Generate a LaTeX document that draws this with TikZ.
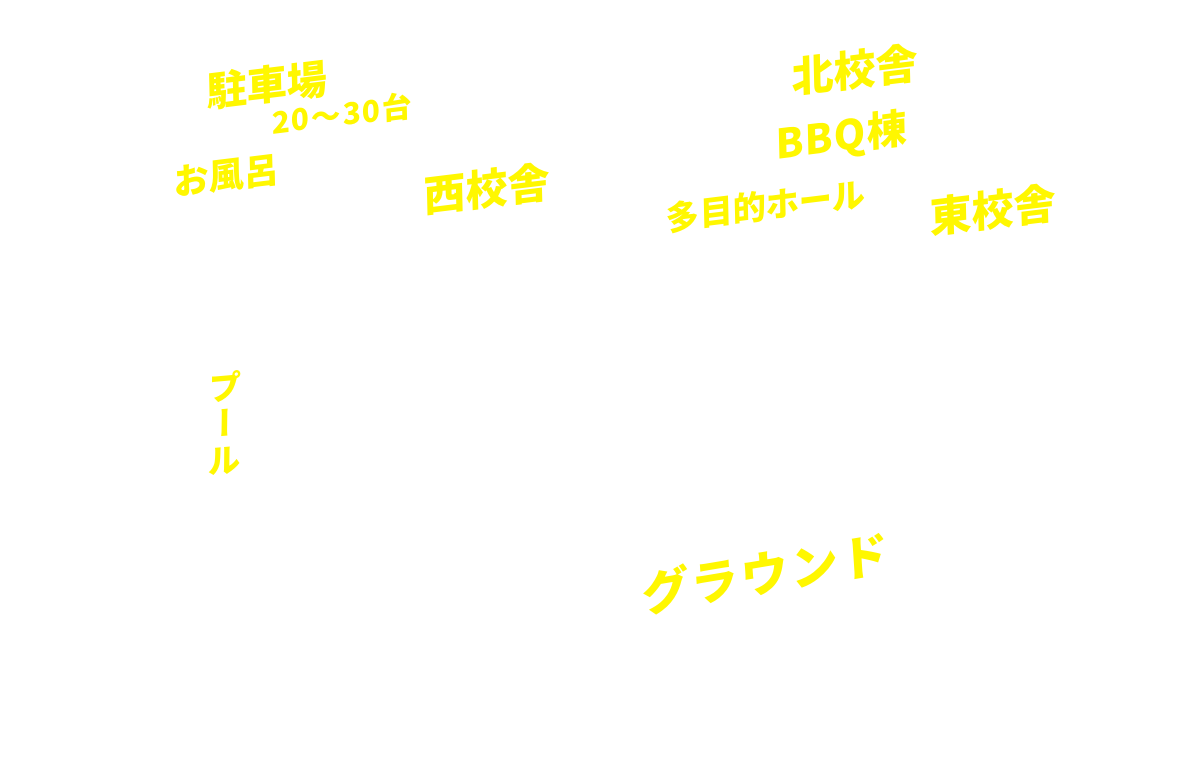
\documentclass[tikz,border=0pt]{standalone}
\usepackage{fontspec}
\newfontfamily\jpfont{Noto Sans CJK JP}
\newfontfamily\jpvertfont[RawFeature=+vert]{Noto Sans CJK JP}
\definecolor{signyellow}{HTML}{FFF700}
\newcommand{\fsz}[2][1.0]{\fontsize{#2}{#1\dimexpr #2pt\relax}\selectfont}

\begin{document}
\begin{tikzpicture}[
    x=0.02cm,
    y=-0.02cm,
    sign/.style={
        text=signyellow,
        inner sep=0pt,
        rotate=7,
        xslant=0.1,
        font=\jpfont\bfseries\fsz{#1}
    },
    spaced/.style={
        execute at begin node=\addfontfeature{LetterSpace=#1}
    }
]

% ============================================================
% Canvas
% ============================================================

\fill[white] (0,0) rectangle (1200,777);
\useasboundingbox (0,0) rectangle (1200,777);

% ============================================================
% West side
% ============================================================

\node[sign=23] (parking) at (267,85) {駐車場};
\node[sign=17, spaced=6] (parkcount) at (342,114) {20～30台};
\node[sign=20] (bath) at (227,176) {お風呂};
\node[sign=24] (westwing) at (487,189) {西校舎};

\node[sign=19, rotate=-2, align=center,
      font=\jpvertfont\bfseries\fontsize{19}{20.5}\selectfont] (pool) at (225,423) {プ\\ー\\ル};

% ============================================================
% North and east side
% ============================================================

\node[sign=24] (northwing) at (855,70) {北校舎};
\node[sign=23, spaced=3] (bbq) at (842,138) {BBQ棟};
\node[sign=19] (hall) at (766,206) {多目的ホール};
\node[sign=24] (eastwing) at (993,210) {東校舎};

% ============================================================
% Ground
% ============================================================

\node[sign=27, rotate=2.5, spaced=6] (ground) at (765,573) {グラウンド};

\end{tikzpicture}
\end{document}
